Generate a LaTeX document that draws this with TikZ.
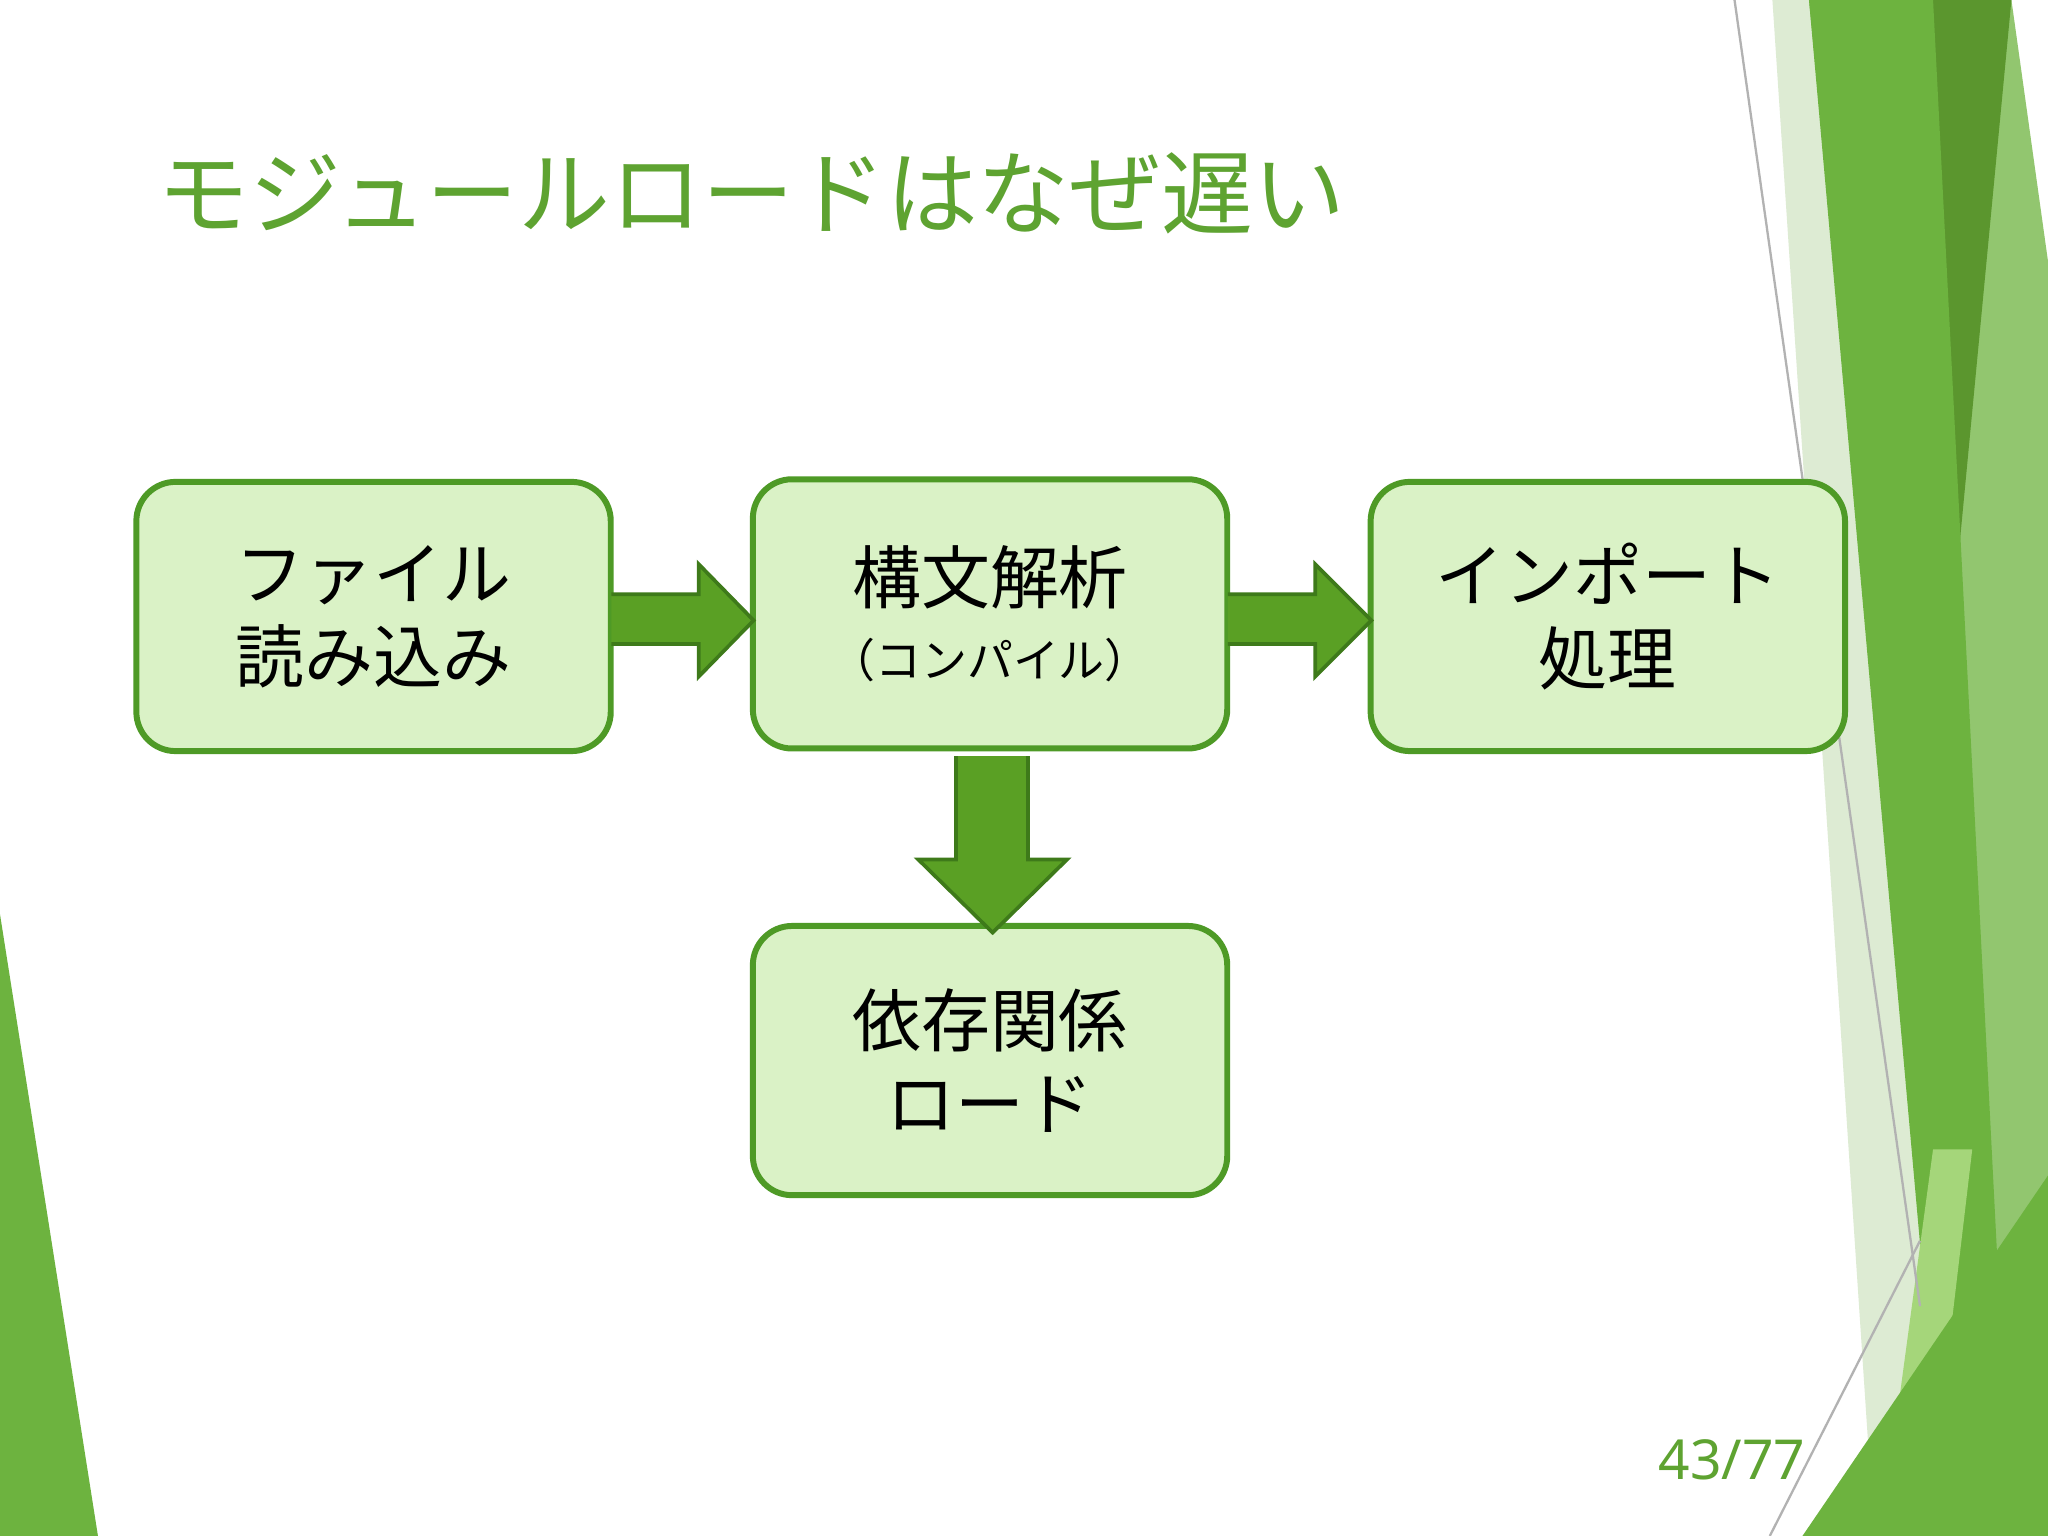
\documentclass[tikz,border=0pt]{standalone}
\usepackage{fontspec}
\newfontfamily\cjk{Noto Sans CJK JP}
\setmainfont{Noto Sans}
\begin{document}
\begin{tikzpicture}[x=0.01cm,y=-0.01cm,
  box/.style={draw=boxborder,line width=1.3pt,fill=boxfill,rounded corners=0.3cm,minimum width=3.63cm,minimum height=2.06cm,align=center,font=\cjk\fontsize{15}{18}\selectfont},
  blk/.style={fill=arrowfill,draw=arrowborder,line width=0.8pt,line join=miter}]
\definecolor{boxfill}{HTML}{DAF2C6}
\definecolor{boxborder}{HTML}{4E9A26}
\definecolor{arrowfill}{HTML}{5AA024}
\definecolor{arrowborder}{HTML}{3E7A1A}
\definecolor{titlegreen}{HTML}{5EA331}
\definecolor{dk}{HTML}{5B962E}\definecolor{md}{HTML}{6DB33F}\definecolor{lt}{HTML}{A5D67A}\definecolor{pl}{HTML}{DDEBD3}
\useasboundingbox (0,0) rectangle (1568,1176);
\fill[white] (0,0) rectangle (1568,1176);
% decorations
\fill[pl] (1357,0) -- (1392,0) -- (1478,900) -- (1450,1176) -- (1435,1176) -- cycle;
\fill[md!75!white] (1385,0) -- (1540,0) -- (1568,200) -- (1568,1176) -- (1500,1176) -- cycle;
\fill[dk] (1462,0) -- (1540,0) -- (1500,420) -- cycle;
\fill[md] (1385,0) -- (1480,0) -- (1540,1176) -- (1490,1176) -- cycle;
\fill[lt] (1480,880) -- (1510,880) -- (1475,1176) -- (1440,1176) -- cycle;
\fill[md] (1568,900) -- (1568,1176) -- (1380,1176) -- cycle;
\draw[gray!60,line width=0.5pt] (1328,0) -- (1470,1000);
\draw[gray!60,line width=0.5pt] (1355,1176) -- (1470,950);
\fill[md] (0,700) -- (75,1176) -- (0,1176) -- cycle;
% title
\node[anchor=west,text=titlegreen,font=\cjk\fontsize{20}{22}\selectfont,inner sep=0] (title) at (120,148) {モジュールロードはなぜ遅い};
% boxes
\node[box] (a) at (286,472) {ファイル\\読み込み};
\node[box] (b) at (758,470) {構文解析\\[-2pt]{\fontsize{10}{12}\selectfont （コンパイル）}};
\node[box] (c) at (1231,472) {インポート\\処理};
\node[box] (d) at (758,812) {依存関係\\ロード};
% block arrows
\draw[blk] (468,455) -- (535,455) -- (535,432) -- (577,475) -- (535,518) -- (535,493) -- (468,493);
\draw[blk] (940,455) -- (1007,455) -- (1007,432) -- (1050,475) -- (1007,518) -- (1007,493) -- (940,493);
\draw[blk] (732,579) -- (732,658) -- (703,658) -- (760,714) -- (817,658) -- (787,658) -- (787,579);
\node[text=titlegreen,font=\fontsize{12}{14}\selectfont,inner sep=0] (pg) at (1326,1118) {43/77};
\end{tikzpicture}
\end{document}
